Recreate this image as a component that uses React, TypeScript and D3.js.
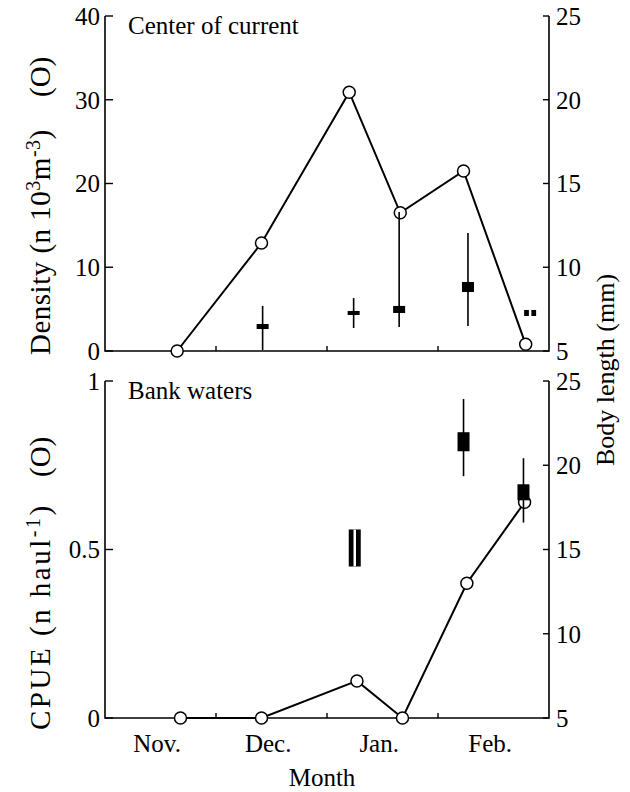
import React from "react";
import * as d3 from "d3";

// ---- Data ----
const monthLabels = ["Nov.", "Dec.", "Jan.", "Feb."];
const monthBoundaries = [1, 2, 3];

// Top panel: Center of current
const topDates = [0.65, 1.41, 2.2, 2.66, 3.23, 3.79];
const topDensity = [0, 12.9, 30.9, 16.5, 21.5, 0.8];
const topBoxDates = [1.42, 2.24, 2.65, 3.27, 3.83];
const topMin = [5.06, 6.37, 6.43, 6.49, 7.09];
const topQ1 = [6.31, 7.15, 7.27, 8.52, 7.09];
const topQ3 = [6.61, 7.39, 7.69, 9.12, 7.45];
const topMax = [7.69, 8.16, 13.3, 12.04, 7.45];

// Bottom panel: Bank waters
const botDates = [0.68, 1.41, 2.27, 2.68, 3.26, 3.78];
const botCPUE = [0, 0, 0.11, 0, 0.4, 0.64];
const botBoxDates = [2.25, 3.23, 3.77];
const botMin = [13.99, 19.35, 16.6];
const botQ1 = [13.99, 20.83, 17.92];
const botQ3 = [16.19, 21.96, 18.87];
const botMax = [16.19, 23.93, 20.42];

const topLeftTicks = [0, 10, 20, 30, 40];
const botLeftTicks = [0, 0.5, 1];
const rightTicks = [5, 10, 15, 20, 25];

const FONT = "'Liberation Serif', 'Times New Roman', Times, serif";
const FS = 25;
const LFS = 29;
const SUP = 20;

const x = d3.scaleLinear().domain([0, 4]).range([105, 549]);

type PanelProps = {
  top: number;
  bottom: number;
  leftDomain: [number, number];
  leftTicks: number[];
  leftFmt: (v: number) => string;
  dates: number[];
  values: number[];
  boxDates: number[];
  mins: number[];
  q1s: number[];
  q3s: number[];
  maxs: number[];
  title: string;
};

function Panel(p: PanelProps) {
  const yL = d3.scaleLinear().domain(p.leftDomain).range([p.bottom, p.top]);
  const yR = d3.scaleLinear().domain([5, 25]).range([p.bottom, p.top]);
  const pts = p.dates.map((d, i) => [x(d), yL(p.values[i])] as [number, number]);
  const line = d3.line()(pts) || "";
  const [x0, x1] = x.range();
  const bw = 12;
  return (
    <g>
      <path
        d={`M${x0},${p.top}V${p.bottom}H${x1}V${p.top}`}
        fill="none"
        stroke="#000"
        strokeWidth={1.6}
      />
      {p.leftTicks.map((t) => (
        <g key={"l" + t}>
          <line x1={x0} x2={x0 + 8} y1={yL(t)} y2={yL(t)} stroke="#000" strokeWidth={1.4} />
          <text
            x={x0 - 5}
            y={yL(t)}
            dy="0.35em"
            textAnchor="end"
            fontSize={FS}
            fontFamily={FONT}
          >
            {p.leftFmt(t)}
          </text>
        </g>
      ))}
      {rightTicks.map((t) => (
        <g key={"r" + t}>
          <line x1={x1 - 6} x2={x1} y1={yR(t)} y2={yR(t)} stroke="#000" strokeWidth={1.4} />
          <text x={x1 + 7} y={yR(t)} dy="0.35em" textAnchor="start" fontSize={FS} fontFamily={FONT}>
            {t}
          </text>
        </g>
      ))}
      {monthBoundaries.map((m) => (
        <line key={"m" + m} x1={x(m)} x2={x(m)} y1={p.bottom} y2={p.bottom - 5} stroke="#000" strokeWidth={1.4} />
      ))}
      <text x={128} y={p.top + 18} fontSize={FS} fontFamily={FONT}>
        {p.title}
      </text>
      <path d={line} fill="none" stroke="#000" strokeWidth={2} />
      {pts.map((pt, i) => (
        <circle key={"c" + i} cx={pt[0]} cy={pt[1]} r={6} fill="#fff" stroke="#000" strokeWidth={1.5} />
      ))}
      {p.boxDates.map((d, i) => {
        const cx = x(d);
        const noWhisker = p.mins[i] === p.q1s[i] && p.maxs[i] === p.q3s[i];
        return (
          <g key={"b" + i}>
            <line x1={cx} x2={cx} y1={yR(p.mins[i])} y2={yR(p.maxs[i])} stroke="#000" strokeWidth={1.6} />
            <rect
              x={cx - bw / 2}
              y={yR(p.q3s[i])}
              width={bw}
              height={Math.max(yR(p.q1s[i]) - yR(p.q3s[i]), 1)}
              fill="#000"
            />
            {noWhisker && (
              <line x1={cx} x2={cx} y1={yR(p.q1s[i])} y2={yR(p.q3s[i])} stroke="#fff" strokeWidth={2.5} />
            )}
          </g>
        );
      })}
    </g>
  );
}

export default function App() {
  const t = { fontSize: LFS, fontFamily: FONT } as const;
  return (
    <svg
      width={630}
      height={792}
      style={{ position: "absolute", left: 0, top: 0, background: "#fff" }}
    >
      <rect width={630} height={792} fill="#fff" />
      <Panel
        top={16}
        bottom={351}
        leftDomain={[0, 40]}
        leftTicks={topLeftTicks}
        leftFmt={(v) => String(v)}
        dates={topDates}
        values={topDensity}
        boxDates={topBoxDates}
        mins={topMin}
        q1s={topQ1}
        q3s={topQ3}
        maxs={topMax}
        title="Center of current"
      />
      <Panel
        top={381}
        bottom={718}
        leftDomain={[0, 1]}
        leftTicks={botLeftTicks}
        leftFmt={(v) => String(v)}
        dates={botDates}
        values={botCPUE}
        boxDates={botBoxDates}
        mins={botMin}
        q1s={botQ1}
        q3s={botQ3}
        maxs={botMax}
        title="Bank waters"
      />
      {monthLabels.map((m, i) => (
        <text key={m} x={x(i + 0.47)} y={752} textAnchor="middle" fontSize={FS} fontFamily={FONT}>
          {m}
        </text>
      ))}
      <text x={322} y={786} textAnchor="middle" fontSize={FS} fontFamily={FONT}>
        Month
      </text>

      <g transform="rotate(-90)">
        {/* Left label, top panel */}
        <text x={-355} y={50} {...t} letterSpacing={0.5}>
          Density (n 10
          <tspan dy={-10} fontSize={SUP}>3</tspan>
          <tspan dy={10}>m</tspan>
          <tspan dy={-10} fontSize={SUP}>-3</tspan>
          <tspan dy={10}>)</tspan>
        </text>
        <text x={-97} y={50} {...t}>
          (O)
        </text>

        {/* Left label, bottom panel */}
        <text x={-730} y={50} {...t} letterSpacing={2.5}>
          CPUE (n haul
          <tspan dy={-10} fontSize={SUP}>-1</tspan>
          <tspan dy={10}>)</tspan>
        </text>
        <text x={-477} y={50} {...t}>
          (O)
        </text>

        {/* Right label */}
        <text x={-370} y={614} textAnchor="middle" fontSize={26} fontFamily={FONT}>
          Body length (mm)
        </text>
      </g>
    </svg>
  );
}
